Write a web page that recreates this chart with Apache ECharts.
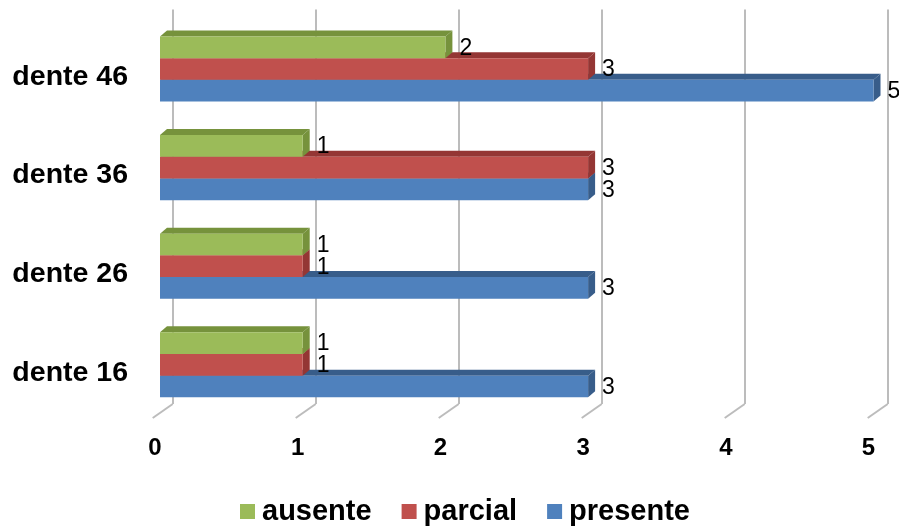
<!DOCTYPE html>
<html>
<head>
<meta charset="utf-8">
<script src="https://cdn.jsdelivr.net/npm/echarts@6/dist/echarts.min.js"></script>
<style>
  html, body { margin: 0; padding: 0; background: #fff; }
  #chart { width: 899px; height: 527px; }
</style>
</head>
<body>
<div id="chart"></div>
<script>
// data
const categories = ['dente 46', 'dente 36', 'dente 26', 'dente 16'];
const seriesNames = ['ausente', 'parcial', 'presente'];
const ausente = [2, 1, 1, 1];
const parcial = [3, 3, 1, 1];
const presente = [5, 3, 3, 3];
const xTicks = [0, 1, 2, 3, 4, 5];

const fronts = ['#9BBB59', '#C0504D', '#4F81BD'];
const sides = ['#76923C', '#943634', '#385D8A'];
const FONT = 'Liberation Sans, Arial, sans-serif';
const BW = 21.7;        // bar thickness
const DX = 7, DY = -6;  // 3d depth

function barRenderer(s) {
  return function (params, api) {
    const v = api.value(0), cat = api.value(1);
    const c0 = api.coord([0, cat]);
    const c1 = api.coord([v, cat]);
    const top = c0[1] - (BW * 3) / 2 + s * BW;
    const bot = top + BW;
    const x0 = c0[0], x1 = c1[0];
    return {
      type: 'group',
      children: [
        { type: 'polygon', shape: { points: [[x0, top], [x0 + DX, top + DY], [x1 + DX, top + DY], [x1, top]] },
          style: { fill: sides[s] } },
        { type: 'polygon', shape: { points: [[x1, top], [x1 + DX, top + DY], [x1 + DX, bot + DY], [x1, bot]] },
          style: { fill: sides[s] } },
        { type: 'rect', shape: { x: x0, y: top, width: x1 - x0, height: BW },
          style: { fill: fronts[s] } },
        { type: 'text', style: { text: String(v), x: x1 + DX + 7, y: (top + bot) / 2 + 1,
          fill: '#000', fontSize: 23, fontFamily: FONT, align: 'left', verticalAlign: 'middle' } }
      ]
    };
  };
}

const values = [ausente, parcial, presente];

const chart = echarts.init(document.getElementById('chart'));
chart.setOption({
  animation: false,
  backgroundColor: '#fff',
  grid: [
    { left: 160, right: 25.5, top: 19.7, height: 394.4 },
    { left: 172.7, right: 11.3, top: 9.5, bottom: 123 }
  ],
  legend: {
    data: seriesNames,
    left: 235,
    top: 492,
    icon: 'rect',
    itemWidth: 15,
    itemHeight: 15,
    itemGap: 30,
    textStyle: { fontSize: 29, fontWeight: 'bold', color: '#000', fontFamily: FONT, padding: [0, 0, 0, 2] }
  },
  xAxis: [
    {
      gridIndex: 0, type: 'value', min: 0, max: 5, interval: 1,
      axisLine: { show: false }, axisTick: { show: false }, splitLine: { show: false },
      axisLabel: { fontSize: 24, fontWeight: 'bold', color: '#000', fontFamily: FONT,
        margin: 22, padding: [0, 10, 0, 0] }
    },
    {
      gridIndex: 1, type: 'value', min: 0, max: 5, interval: 1,
      axisLine: { show: false }, axisTick: { show: false }, axisLabel: { show: false },
      splitLine: { show: true, lineStyle: { color: '#bcbcbc', width: 2 } }
    }
  ],
  yAxis: [
    {
      gridIndex: 0, type: 'category', data: categories, inverse: true,
      axisLine: { show: false }, axisTick: { show: false },
      axisLabel: { fontSize: 28.5, fontWeight: 'bold', color: '#000', fontFamily: FONT,
        margin: 32, verticalAlign: 'top', lineHeight: 16 }
    },
    {
      gridIndex: 1, type: 'value', min: 0, max: 1,
      axisLine: { show: false }, axisTick: { show: false }, axisLabel: { show: false },
      splitLine: { show: false }
    }
  ],
  series: [
    {
      type: 'custom', name: 'floor', xAxisIndex: 1, yAxisIndex: 1, z: 1, silent: true,
      data: xTicks.map(t => [t, 0]),
      encode: { x: 0, y: 1 },
      renderItem: function (params, api) {
        const p = api.coord([api.value(0), 0]);
        return { type: 'polyline', shape: { points: [p, [p[0] - 20, p[1] + 14]] },
          style: { stroke: '#bcbcbc', lineWidth: 2, fill: null } };
      }
    }
  ].concat(seriesNames.map((name, s) => ({
    type: 'custom',
    name: name,
    xAxisIndex: 0, yAxisIndex: 0,
    z: 5 - s,
    itemStyle: { color: fronts[s] },
    data: values[s].map((v, i) => [v, i]),
    encode: { x: 0, y: 1 },
    renderItem: barRenderer(s)
  })))
});
</script>
</body>
</html>
